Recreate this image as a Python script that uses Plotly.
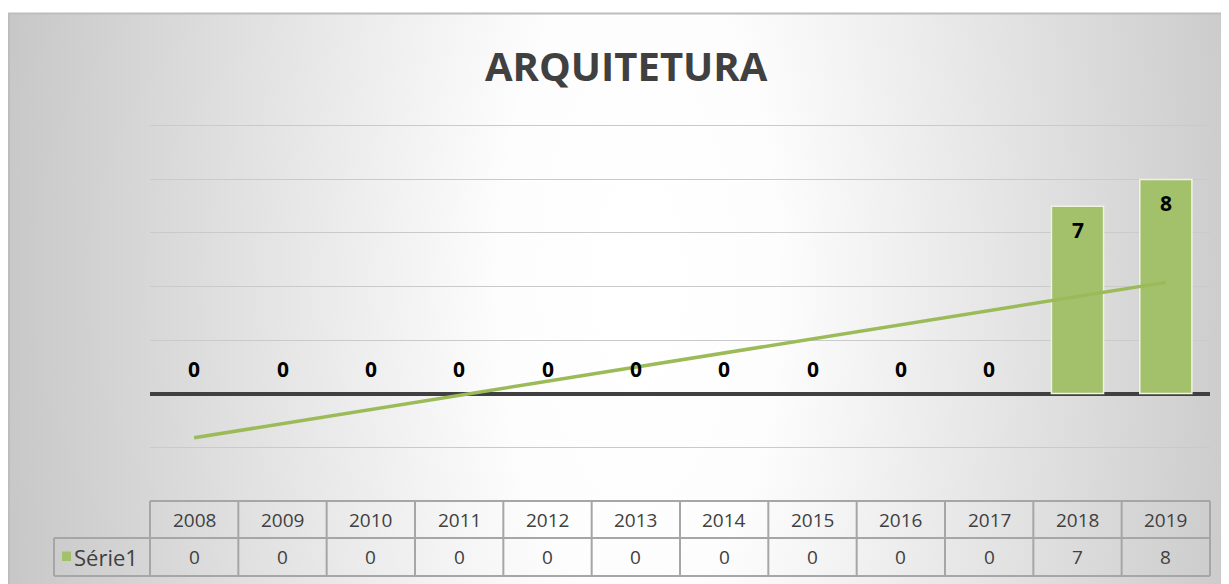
import base64
import numpy as np
import plotly.graph_objects as go

# ---------------- data ----------------
years = ["2008", "2009", "2010", "2011", "2012", "2013",
         "2014", "2015", "2016", "2017", "2018", "2019"]
values = [0, 0, 0, 0, 0, 0, 0, 0, 0, 0, 7, 8]
series_name = "Série1"
title_text = "ARQUITETURA"

# ---------------- geometry helpers (page pixel -> paper) ----------------
OFF = 8                      # browser body margin
W, H = 1229 - OFF, 584 - OFF
def px_x(p):
    return (p - OFF) / W
def px_y(p):
    return 1 - (p - OFF) / H

Y_MIN, Y_MAX, PAD = -2, 10, 0.1
UNIT = (447 - 126) / (Y_MAX - Y_MIN)       # pixels per value unit
X_DOM = [px_x(150), px_x(1210)]
Y_DOM = [px_y(447 + PAD * UNIT), px_y(126 - PAD * UNIT)]
n = len(years)
def cat_edge(i):
    return X_DOM[0] + i / n * (X_DOM[1] - X_DOM[0])

GREEN = "#9BBB59"
BAR = "#A3C06B"
TXT = "#404040"
TABLE_LINE = "#A6A6A6"
FONT = "Open Sans"

# linear trendline (least squares, like Excel)
xi = np.arange(n)
slope, intercept = np.polyfit(xi, values, 1)
trend = slope * xi + intercept

fig = go.Figure()
fig.add_trace(go.Bar(
    x=years, y=values, width=0.59,
    marker=dict(color=BAR, line=dict(color="#EEF4E2",
                                     width=[1.5 if v > 0 else 0 for v in values])),
    hoverinfo="skip", showlegend=False,
))
fig.add_trace(go.Scatter(
    x=years, y=trend, mode="lines",
    line=dict(color=GREEN, width=3.5),
    hoverinfo="skip", showlegend=False,
))

annotations = []
# data labels (category axis -> serial index)
for i, v in enumerate(values):
    annotations.append(dict(
        x=i, y=v, xref="x", yref="y", text=f"<b>{v}</b>", showarrow=False,
        yanchor="middle", yshift=(25 if v == 0 else -24),
        font=dict(family=FONT, size=21, color="#000000"),
    ))
# title
annotations.append(dict(
    x=px_x(626), y=px_y(66), xref="paper", yref="paper", text=f"<b>{title_text}</b>",
    showarrow=False, xanchor="center", yanchor="middle",
    font=dict(family=FONT, size=40, color=TXT),
))
# data table texts
ROW1_TOP, ROW_MID, ROW2_BOT = 501, 538, 576
for i, (yr, v) in enumerate(zip(years, values)):
    annotations.append(dict(
        x=i, y=px_y((ROW1_TOP + ROW_MID) / 2), xref="x", yref="paper", text=yr,
        showarrow=False, yanchor="middle", font=dict(family=FONT, size=19, color=TXT),
    ))
    annotations.append(dict(
        x=i, y=px_y((ROW_MID + ROW2_BOT) / 2), xref="x", yref="paper", text=str(v),
        showarrow=False, yanchor="middle", font=dict(family=FONT, size=19, color=TXT),
    ))
annotations.append(dict(
    x=px_x(72), y=px_y((ROW_MID + ROW2_BOT) / 2), xref="paper", yref="paper",
    text=series_name, showarrow=False, xanchor="left", yanchor="middle",
    font=dict(family=FONT, size=22, color=TXT),
))

shapes = []
# chart-area border (top / left)
shapes.append(dict(type="line", xref="paper", yref="paper", x0=px_x(8), x1=1, y0=px_y(13.5), y1=px_y(13.5),
                   line=dict(color="#BDBDBD", width=2), layer="below"))
shapes.append(dict(type="line", xref="paper", yref="paper", x0=px_x(9), x1=px_x(9), y0=px_y(13), y1=0,
                   line=dict(color="#BDBDBD", width=2), layer="below"))
# table lines
tl = dict(color=TABLE_LINE, width=2)
shapes.append(dict(type="line", xref="paper", yref="paper", x0=cat_edge(0), x1=cat_edge(n),
                   y0=px_y(ROW1_TOP), y1=px_y(ROW1_TOP), line=tl))
shapes.append(dict(type="line", xref="paper", yref="paper", x0=px_x(54), x1=cat_edge(n),
                   y0=px_y(ROW_MID), y1=px_y(ROW_MID), line=tl))
shapes.append(dict(type="line", xref="paper", yref="paper", x0=px_x(54), x1=cat_edge(n),
                   y0=px_y(ROW2_BOT), y1=px_y(ROW2_BOT), line=tl))
shapes.append(dict(type="line", xref="paper", yref="paper", x0=px_x(54), x1=px_x(54),
                   y0=px_y(ROW_MID), y1=px_y(ROW2_BOT), line=tl))
for i in range(n + 1):
    shapes.append(dict(type="line", xref="paper", yref="paper", x0=cat_edge(i), x1=cat_edge(i),
                       y0=px_y(ROW1_TOP), y1=px_y(ROW2_BOT), line=tl))
# legend key in table
shapes.append(dict(type="rect", xref="paper", yref="paper", x0=px_x(62), x1=px_x(71),
                   y0=px_y(551.5), y1=px_y(561), fillcolor=BAR, line=dict(width=0)))

# radial gradient background as an inline SVG image
gw, gh = 1229 - 8, 584 - 13
svg = (
    f'<svg xmlns="http://www.w3.org/2000/svg" width="{gw}" height="{gh}" viewBox="0 0 {gw} {gh}" preserveAspectRatio="none">'
    '<defs><radialGradient id="g" gradientUnits="userSpaceOnUse" cx="0" cy="0" r="1" '
    f'gradientTransform="translate({630} {270}) scale(690 1600)">'
    '<stop offset="0" stop-color="#ffffff"/><stop offset="0.2" stop-color="#fdfdfd"/>'
    '<stop offset="1" stop-color="#c2c2c2"/></radialGradient></defs>'
    f'<rect width="{gw}" height="{gh}" fill="url(#g)"/></svg>'
)
src = "data:image/svg+xml;base64," + base64.b64encode(svg.encode()).decode()

fig.update_layout(
    width=W, height=H,
    margin=dict(l=0, r=0, t=0, b=0),
    paper_bgcolor="#FFFFFF",
    plot_bgcolor="rgba(0,0,0,0)",
    images=[dict(source=src, xref="paper", yref="paper", x=px_x(8), y=px_y(13),
                 sizex=1 - px_x(8), sizey=px_y(13), sizing="stretch",
                 xanchor="left", yanchor="top", layer="below")],
    xaxis=dict(domain=X_DOM, type="category", range=[-0.5, n - 0.5],
               showticklabels=False, showgrid=False, zeroline=False, ticks="", fixedrange=True),
    yaxis=dict(domain=Y_DOM, range=[Y_MIN - PAD, Y_MAX + PAD], dtick=2, showticklabels=False,
               showgrid=True, gridcolor="#CACACA", gridwidth=1,
               zeroline=True, zerolinecolor="#404040", zerolinewidth=3.5, ticks="", fixedrange=True),
    bargap=0.41,
    annotations=annotations,
    shapes=shapes,
    showlegend=False,
)

fig.write_html("out.html")
